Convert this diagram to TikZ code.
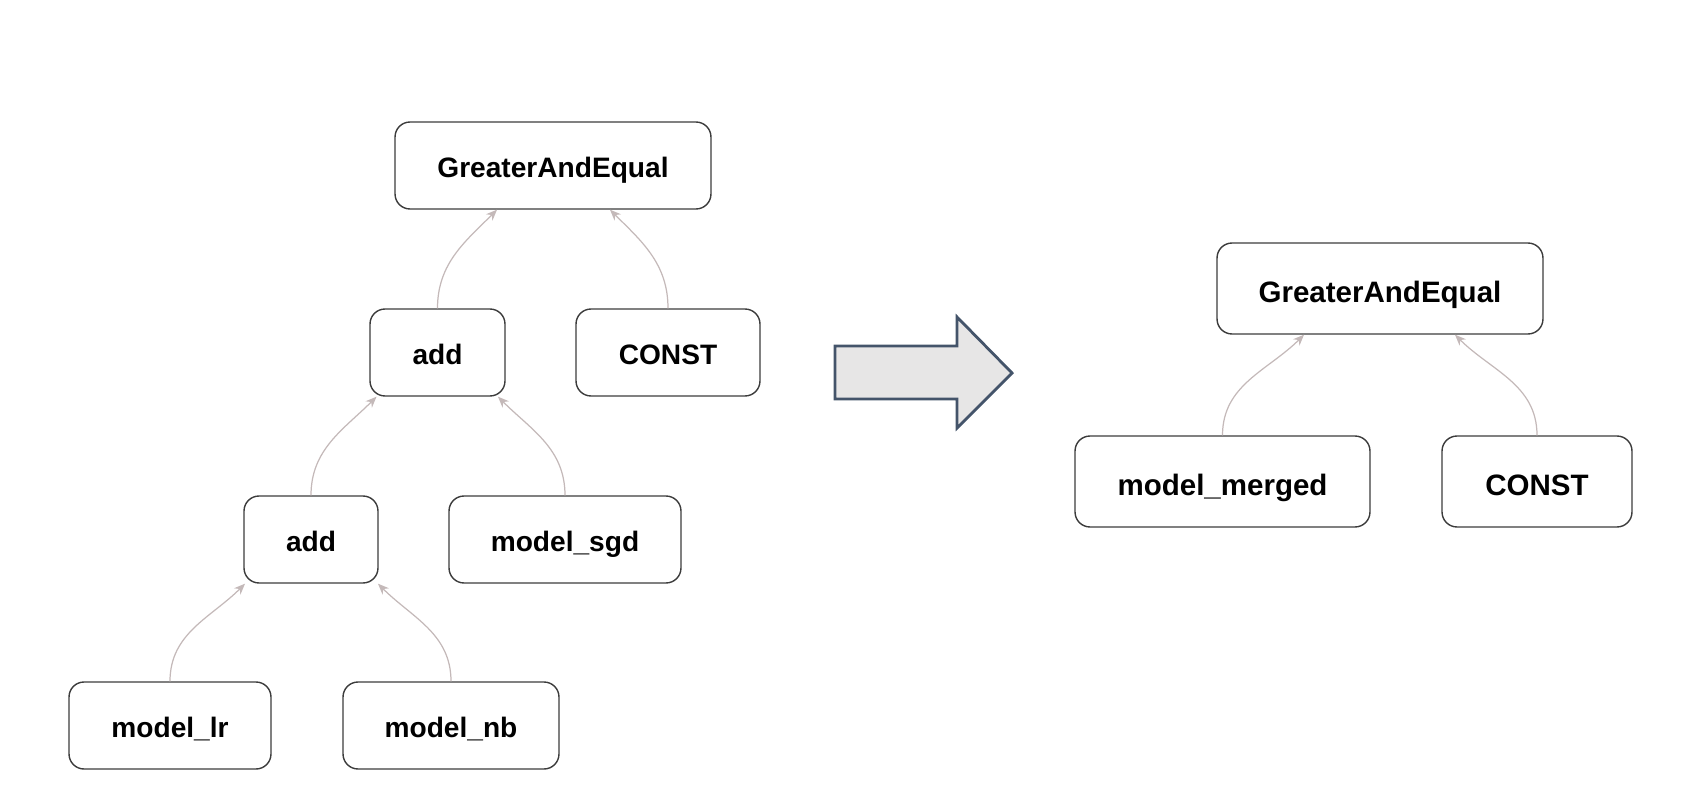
\documentclass[tikz,border=0pt]{standalone}
\usepackage{fontspec}
\setmainfont{Liberation Sans}
\usepackage{tikz}
\usetikzlibrary{
  arrows.meta,
  positioning
}
\definecolor{ink}{HTML}{3C3C3C}
\definecolor{edgegrey}{HTML}{C4B9B9}
\definecolor{slate}{HTML}{44546A}
\definecolor{arrowfill}{HTML}{E7E6E6}
\tikzset{
  op/.style={
    draw=ink,
    fill=white,
    line width=0.8pt,
    rounded corners=0.3cm,
    minimum height=1.74cm,
    inner sep=0pt,
    text height=14.2pt,
    text depth=0pt,
    align=center,
    font=\fontsize{16}{19}\selectfont\bfseries
  },
  opbig/.style={
    op,
    minimum height=1.82cm,
    text height=16pt,
    font=\fontsize{16.8}{20}\selectfont\bfseries
  },
  link/.style={
    -{Stealth[length=2.2mm,width=1.8mm]},
    draw=edgegrey,
    line width=0.7pt
  },
  bigarrow/.style={
    draw=slate,
    fill=arrowfill,
    line width=1.6pt
  }
}

\begin{document}
\begin{tikzpicture}[x=0.02cm,y=-0.02cm]
  \useasboundingbox (0,0) rectangle (1687,797);

  % Left tree, before merging.
  \node[op, minimum width=6.32cm] (gaeL) at (553,165.5) {GreaterAndEqual};
  \node[op, minimum width=2.70cm] (addT) at (437.5,352.5) {add};
  \node[op, minimum width=3.68cm] (constL) at (668,352.5) {CONST};
  \node[op, minimum width=2.68cm] (addB) at (311,539.5) {add};
  \node[op, minimum width=4.64cm] (sgd) at (565,539.5) {model\_sgd};
  \node[op, minimum width=4.04cm] (lr) at (170,725.5) {model\_lr};
  \node[op, minimum width=4.32cm] (nb) at (451,725.5) {model\_nb};

  \draw[link] (addT.north) to[out=90,in=-135] ([xshift=-1.12cm]gaeL.south);
  \draw[link] (constL.north) to[out=90,in=-45] ([xshift=1.14cm]gaeL.south);
  \draw[link] (addB.north) to[out=90,in=-135] ([xshift=-1.22cm]addT.south);
  \draw[link] (sgd.north) to[out=90,in=-45] ([xshift=1.21cm]addT.south);
  \draw[link] (lr.north) to[out=90,in=-135] ([xshift=-1.32cm]addB.south);
  \draw[link] (nb.north) to[out=90,in=-45] ([xshift=1.34cm]addB.south);

  % Block arrow.
  \draw[bigarrow] (835,346) -- (957,346) -- (957,317) -- (1012,373)
    -- (957,428) -- (957,399) -- (835,399) -- cycle;

  % Right tree, after merging.
  \node[opbig, minimum width=6.52cm] (gaeR) at (1380,288.5) {GreaterAndEqual};
  \node[opbig, minimum width=5.90cm] (merged) at (1222.5,481.5) {model\_merged};
  \node[opbig, minimum width=3.80cm] (constR) at (1537,481.5) {CONST};

  \draw[link] (merged.north) to[out=90,in=-135] ([xshift=-1.52cm]gaeR.south);
  \draw[link] (constR.north) to[out=90,in=-45] ([xshift=1.50cm]gaeR.south);
\end{tikzpicture}
\end{document}
